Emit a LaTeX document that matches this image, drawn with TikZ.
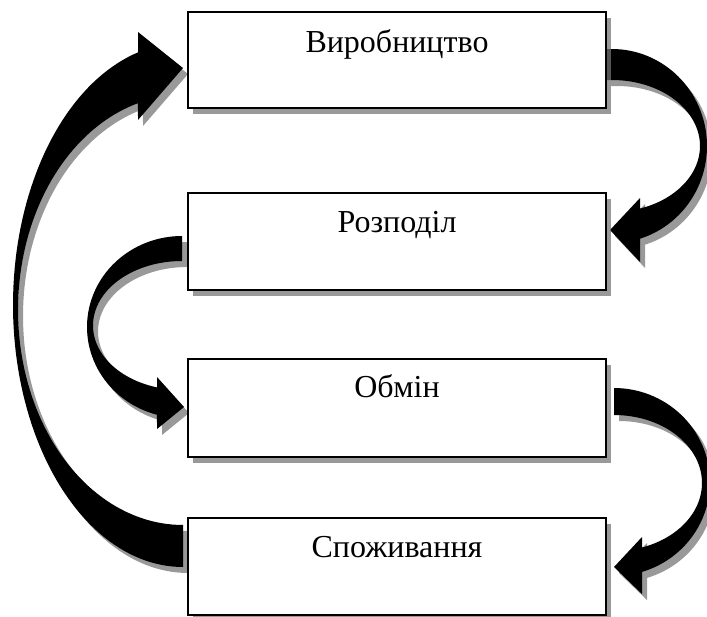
\documentclass[tikz,border=0pt]{standalone}
\usepackage{fontspec}
\setmainfont{Liberation Serif}
\usetikzlibrary{shadows}
\definecolor{shd}{RGB}{116,116,116}
\pgfdeclarelayer{bg}
\pgfsetlayers{bg,main}
\newcommand\arrD[1]{\fill[#1] (183,567) -- plot[domain=90:254.65,samples=90] ({183+170*cos(\x)},{305+262*sin(\x)}) -- (138,32) -- (183,68) -- (138,120) -- plot[domain=254.17:90,samples=90] ({183+165*cos(\x)},{310+215*sin(\x)}) -- cycle;}
\newcommand\arrB[1]{\fill[#1] (182,236) -- plot[domain=270:105.26,samples=60] ({182+95*cos(\x)},{327+91*sin(\x)}) -- (157,429) -- (184,407) -- (157,377) -- plot[domain=106.31:270,samples=60] ({182+89*cos(\x)},{325.5+64.5*sin(\x)}) -- cycle;}
\newcommand\arrA[1]{\fill[#1] (606,49) -- plot[domain=270:432.86,samples=60] ({612+95*cos(\x)},{146+97*sin(\x)}) -- (640,262) -- (610,230) -- (640,198) -- plot[domain=431.45:270,samples=60] ({612+88*cos(\x)},{146+66*sin(\x)}) -- (606,80) -- cycle;}
\newcommand\arrC[1]{\fill[#1] (614,388) -- plot[domain=270:433.04,samples=60] ({614+96*cos(\x)},{482+94*sin(\x)}) -- (642,594) -- (614,567) -- (642,537) -- plot[domain=431.45:270,samples=60] ({614+88*cos(\x)},{483+68*sin(\x)}) -- cycle;}
\begin{document}
\begin{tikzpicture}[x=1pt,y=-1pt,
  box/.style={draw=black, line width=1.1pt, fill=white, minimum width=418pt, inner sep=0pt,
    drop shadow={shadow xshift=5pt, shadow yshift=-6pt, fill=shd, opacity=0.733}},
  lbl/.style={font=\fontsize{32}{38}\selectfont, anchor=base, inner sep=0pt},
  arrowshadow/.style={fill=shd, fill opacity=0.733, xshift=5pt, yshift=-6pt},
  arrowbody/.style={fill=black}]
\clip (0,0) rectangle (707,616);
% boxes
\node[box, minimum height=96pt] (b1) at (397,60) {};
\node[box, minimum height=97pt] (b2) at (397,241.5) {};
\node[box, minimum height=98pt] (b3) at (397,408) {};
\node[box, minimum height=97pt] (b4) at (397,566.5) {};
% labels
\node[lbl] (t1) at ([yshift=-41pt]b1.north) {Виробництво};
\node[lbl] (t2) at ([yshift=-40pt]b2.north) {Розподіл};
\node[lbl] (t3) at ([yshift=-39pt]b3.north) {Обмін};
\node[lbl] (t4) at ([yshift=-40pt]b4.north) {Споживання};
% block arrows
\begin{pgfonlayer}{bg}
\fill[white] (0,0) rectangle (707,616);
\arrD{arrowshadow}
\arrB{arrowshadow}
\arrA{arrowshadow}
\arrC{arrowshadow}
\arrD{arrowbody}
\arrB{arrowbody}
\arrA{arrowbody}
\arrC{arrowbody}
\end{pgfonlayer}
\end{tikzpicture}
\end{document}
